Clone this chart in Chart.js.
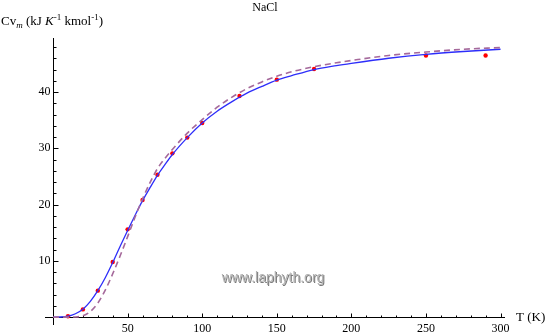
<!DOCTYPE html>
<html>
<head>
<meta charset="utf-8">
<script src="https://cdn.jsdelivr.net/npm/chart.js@4.4.1/dist/chart.umd.min.js"></script>
<style>
  html, body { margin: 0; padding: 0; background: #fff; }
  #wrap { width: 547px; height: 336px; }
</style>
</head>
<body>
<div id="wrap"><canvas id="chart1"></canvas></div>
<script>
// Datos (T en K, Cv en kJ K^-1 kmol^-1)
const curvaT = [0, 5, 10, 15, 20, 25, 30, 35, 40, 45, 50, 55, 60, 65, 70, 75, 80, 90, 100, 110, 120, 130, 140, 150, 160, 175, 190, 200, 225, 250, 275, 300];
const curvaCv = [0, 0.02, 0.17, 0.6, 1.4, 2.8, 4.7, 7.0, 9.7, 12.6, 15.4, 18.1, 20.7, 23.0, 25.2, 27.1, 28.9, 31.9, 34.5, 36.6, 38.3, 39.8, 41.0, 42.1, 42.9, 44.0, 44.7, 45.1, 46.0, 46.7, 47.2, 47.6];

const einsteinT = [0, 10, 15, 20, 25, 30, 35, 40, 45, 50, 55, 60, 65, 70, 75, 80, 90, 100, 110, 120, 130, 140, 150, 160, 175, 190, 200, 225, 250, 275, 300];
const einsteinCv = [0, 0, 0.03, 0.25, 1.0, 2.5, 4.8, 7.7, 10.9, 14.3, 17.8, 21.0, 23.9, 26.4, 28.2, 29.8, 32.7, 35.1, 37.3, 39.1, 40.6, 41.8, 42.8, 43.6, 44.5, 45.2, 45.6, 46.5, 47.1, 47.6, 47.9];

const medidasT = [10, 20, 30, 40, 50, 60, 70, 80, 90, 100, 125, 150, 175, 250, 290];
const medidasCv = [0.15, 1.37, 4.7, 9.8, 15.6, 20.8, 25.3, 29.1, 31.9, 34.5, 39.3, 42.2, 44.1, 46.5, 46.5];

const etiquetasX = [50, 100, 150, 200, 250, 300];
const etiquetasY = [10, 20, 30, 40];

// Se arma la lista de puntos {x, y}
const puntos = (xs, ys) => xs.map((x, i) => ({ x: x, y: ys[i] }));

const SERIF = '"Liberation Serif", "DejaVu Serif", serif';

// Plugin para dibujar los ejes al estilo Mathematica
const ejes = {
    id: 'ejes',
    beforeDatasetsDraw(chart) {
        const ctx = chart.ctx;
        const sx = chart.scales.x;
        const sy = chart.scales.y;
        const area = chart.chartArea;
        const x0 = Math.round(sx.getPixelForValue(0)) + 0.5;
        const y0 = Math.round(sy.getPixelForValue(0)) + 0.5;
        ctx.save();
        ctx.strokeStyle = '#000';
        ctx.lineWidth = 1;
        ctx.beginPath();
        ctx.moveTo(area.left, y0);
        ctx.lineTo(area.right, y0);
        ctx.moveTo(x0, area.bottom);
        ctx.lineTo(x0, area.top);
        // Marcas del eje x
        for (let t = 10; t <= 300; t += 10) {
            const px = Math.round(sx.getPixelForValue(t)) + 0.5;
            const len = etiquetasX.includes(t) ? 4 : 2;
            ctx.moveTo(px, y0);
            ctx.lineTo(px, y0 - len);
        }
        // Marcas del eje y
        for (let c = 2; c <= 48; c += 2) {
            const py = Math.round(sy.getPixelForValue(c)) + 0.5;
            const len = etiquetasY.includes(c) ? 5 : 3;
            ctx.moveTo(x0, py);
            ctx.lineTo(x0 + len, py);
        }
        ctx.stroke();

        ctx.fillStyle = '#000';
        ctx.font = '12px ' + SERIF;
        ctx.textAlign = 'center';
        ctx.textBaseline = 'top';
        etiquetasX.forEach(t => ctx.fillText(String(t), sx.getPixelForValue(t), y0 + 5));
        ctx.textAlign = 'right';
        ctx.textBaseline = 'middle';
        etiquetasY.forEach(c => ctx.fillText(String(c), x0 - 3, sy.getPixelForValue(c)));
        ctx.restore();
    },
    afterDraw(chart) {
        const ctx = chart.ctx;
        const sy = chart.scales.y;
        const y0 = sy.getPixelForValue(0);
        ctx.save();
        ctx.fillStyle = '#000';
        // Título
        ctx.font = '12px ' + SERIF;
        ctx.textAlign = 'center';
        ctx.textBaseline = 'alphabetic';
        ctx.fillText('NaCl', 265, 11);
        // Etiqueta del eje x
        ctx.font = '13px ' + SERIF;
        ctx.textAlign = 'left';
        ctx.textBaseline = 'middle';
        ctx.fillText('T (K)', 516, y0);
        // Etiqueta del eje y, por partes
        const partes = [
            ['Cv', '13px ' + SERIF, 0],
            ['m', 'italic 9px ' + SERIF, 3],
            [' (kJ ', '13px ' + SERIF, 0],
            ['K', 'italic 13px ' + SERIF, 0],
            ['-1', '9px ' + SERIF, -5],
            [' kmol', '13px ' + SERIF, 0],
            ['-1', '9px ' + SERIF, -5],
            [')', '13px ' + SERIF, 0]
        ];
        let px = 1;
        ctx.textAlign = 'left';
        ctx.textBaseline = 'alphabetic';
        partes.forEach(([txt, font, dy]) => {
            ctx.font = font;
            ctx.fillText(txt, px, 25 + dy);
            px += ctx.measureText(txt).width;
        });
        // Marca de agua
        ctx.font = '14px "Liberation Sans", Arial, sans-serif';
        ctx.textAlign = 'center';
        ctx.textBaseline = 'middle';
        ctx.fillStyle = '#7a7a7a';
        ctx.fillText('www.laphyth.org', 274, 279);
        ctx.fillStyle = '#b4b4b4';
        ctx.fillText('www.laphyth.org', 273, 278);
        ctx.restore();
    }
};

const ctx = document.getElementById('chart1').getContext('2d');
const grafico = new Chart(ctx, {
    type: 'line',
    data: {
        datasets: [
            {
                label: 'Einstein',
                data: puntos(einsteinT, einsteinCv),
                borderColor: 'rgb(165, 105, 155)',
                borderWidth: 1.6,
                borderDash: [6, 4],
                pointRadius: 0,
                cubicInterpolationMode: 'monotone',
                fill: false
            },
            {
                label: 'Debye',
                data: puntos(curvaT, curvaCv),
                borderColor: 'rgb(45, 45, 250)',
                borderWidth: 1.3,
                pointRadius: 0,
                cubicInterpolationMode: 'monotone',
                fill: false
            },
            {
                label: 'Medidas',
                data: puntos(medidasT, medidasCv),
                showLine: false,
                pointRadius: 2.2,
                pointBackgroundColor: 'rgb(255, 0, 0)',
                pointBorderColor: 'rgb(255, 0, 0)',
                pointBorderWidth: 0
            }
        ]
    },
    options: {
        responsive: true,
        maintainAspectRatio: false,
        animation: false,
        layout: { padding: { left: 45, top: 38, right: 42, bottom: 11 } },
        plugins: {
            legend: { display: false },
            tooltip: { enabled: false }
        },
        scales: {
            x: { type: 'linear', min: -5.4, max: 303, display: false },
            y: { type: 'linear', min: -1.4, max: 49.6, display: false }
        }
    },
    plugins: [ejes]
});
</script>
</body>
</html>
